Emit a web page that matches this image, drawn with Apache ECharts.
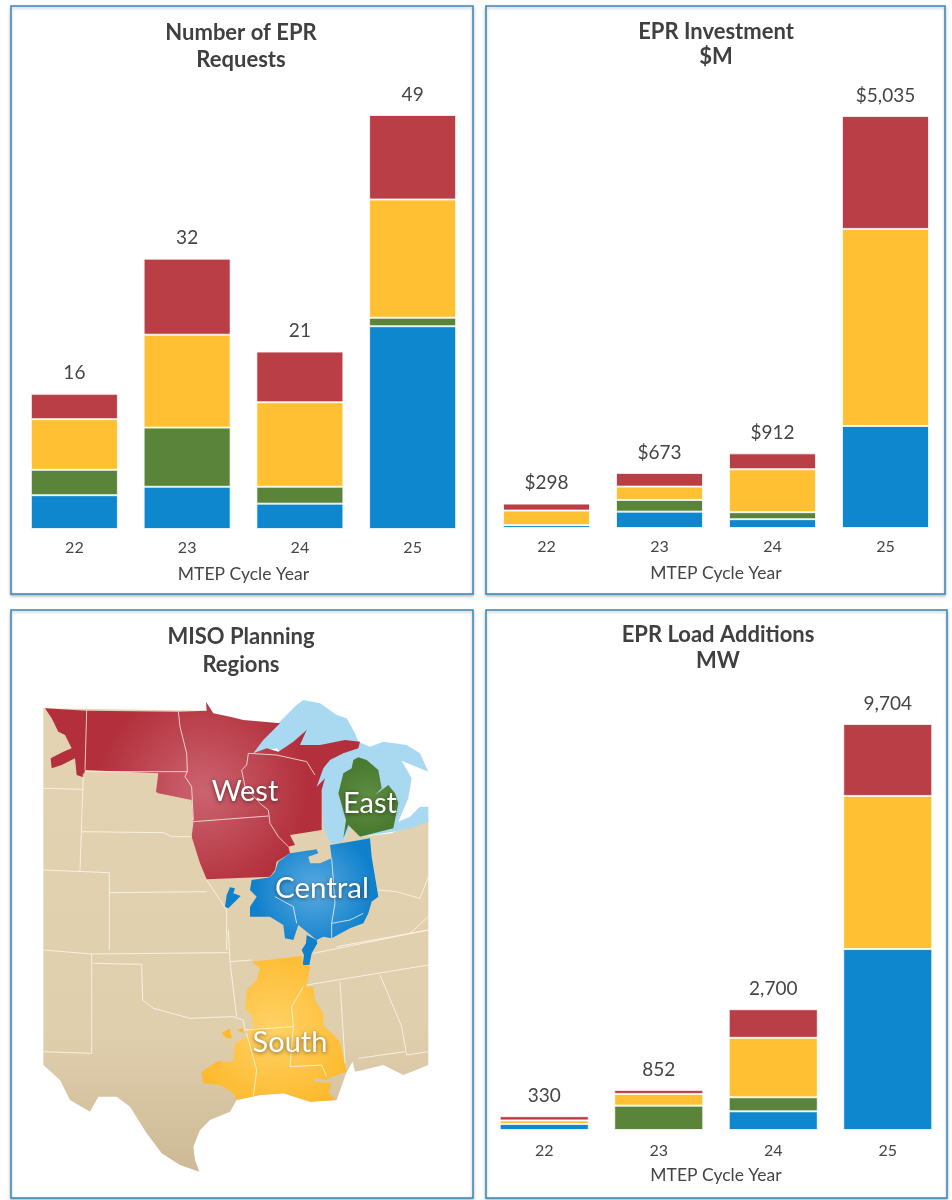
<!DOCTYPE html>
<html><head><meta charset="utf-8">
<style>html,body{margin:0;padding:0;background:#fff}#c{width:952px;height:1200px}</style>
<script src="https://cdn.jsdelivr.net/npm/echarts@6/dist/echarts.min.js"></script>
</head><body><div id="c"></div>
<script>
// ---- data ----
const years = ['22','23','24','25'];
const requestsCentral = [4,5,3,24];
const requestsEast    = [3,7,2,1];
const requestsSouth   = [6,11,10,14];
const requestsWest    = [3,9,6,10];
const requestsTotals  = ['16','32','21','49'];
const investCentral = [35,200,108,1247];
const investEast    = [null,143,85,null];
const investSouth   = [178,163,525,2408];
const investWest    = [85,167,194,1380];
const investTotals  = ['$298','$673','$912','$5,035'];
const loadCentral = [144,null,447,4325];
const loadEast    = [null,582,335,null];
const loadSouth   = [85,280,1421,3660];
const loadWest    = [101,96,684,1719];
const loadTotals  = ['330','852','2,700','9,704'];

// ---- style ----
const FONT='Lato';
const TEXT='#454545';
const COL={Central:'#0E87CF',East:'#5A8439',South:'#FFC133',West:'#B93E46'};

const charts=[
 {title:'Number of EPR\nRequests',cx:241,ty:19,lh:27,left:18,width:451,top:115,height:414,max:49,margin:11,
  d:[requestsCentral,requestsEast,requestsSouth,requestsWest],totals:requestsTotals,bw:87},
 {title:'EPR Investment\n$M',cx:716,ty:19,lh:25,left:490,width:452,top:116,height:412,max:5035,margin:11,
  d:[investCentral,investEast,investSouth,investWest],totals:investTotals,bw:87},
 {title:'EPR Load Additions\nMW',cx:718,ty:622,lh:26,left:487,width:458,top:724,height:406,max:9704,margin:13,
  d:[loadCentral,loadEast,loadSouth,loadWest],totals:loadTotals,bw:89}
];

const grid=[],xAxis=[],yAxis=[],series=[],title=[];
charts.forEach((c,i)=>{
  grid.push({left:c.left,width:c.width,top:c.top,height:c.height,containLabel:false});
  xAxis.push({type:'category',gridIndex:i,data:years,axisLine:{show:false},axisTick:{show:false},
    axisLabel:{color:TEXT,fontFamily:FONT,fontSize:16,margin:c.margin},
    name:'MTEP Cycle Year',nameLocation:'middle',nameGap:36,
    nameTextStyle:{color:TEXT,fontFamily:FONT,fontSize:17.5}});
  yAxis.push({type:'value',gridIndex:i,min:0,max:c.max,show:false,splitLine:{show:false}});
  title.push({text:c.title,left:c.cx,top:c.ty,padding:0,textAlign:'center',
    textStyle:{color:'#404040',fontFamily:FONT,fontWeight:'bold',fontSize:22,lineHeight:c.lh}});
  ['Central','East','South','West'].forEach((n,k)=>{
    const s={name:n,type:'bar',stack:'s'+i,xAxisIndex:i,yAxisIndex:i,data:c.d[k],barWidth:c.bw,
      itemStyle:{color:COL[n],borderColor:'rgba(255,255,255,0.75)',borderWidth:1}};
    if(n==='West'){
      s.label={show:true,position:'top',distance:11,color:TEXT,fontFamily:FONT,fontSize:19,
        formatter:p=>c.totals[p.dataIndex]};
    }
    series.push(s);
  });
});
title.push({text:'MISO Planning\nRegions',left:241,top:623,padding:0,textAlign:'center',
  textStyle:{color:'#404040',fontFamily:FONT,fontWeight:'bold',fontSize:22,lineHeight:28}});

// ---- decorative reference map (not data), traced in 3x crop space ----
const P=pts=>pts.map(p=>[30+p[0]/3,690+p[1]/3]);
const S=pts=>P(pts.map(p=>[p[0],p[1]+720])); // second crop offset
const M=pts=>P(pts.map(p=>[p[0]+870,p[1]+15])); // Michigan crop offset
const land=P([[40,55],[530,62],[875,300],[900,460],[945,445],[965,405],[990,440],[1085,430],[1150,400],[1195,390]]).concat(S([[1195,405],[1120,435],[1060,405],[1000,420],[975,425],[968,395],[950,425],[920,510],[840,515],[760,490],[690,495],[620,510],[600,545],[540,570],[510,600],[490,650],[495,690],[508,725],[450,705],[395,670],[350,610],[300,530],[260,500],[205,500],[180,545],[120,510],[90,450],[40,405]]));
const lakes=P([[670,190],[700,150],[745,100],[800,45],[820,30],[870,40],[920,75],[950,85],[975,130],[985,155],[1020,170],[1060,155],[1130,165],[1170,190],[1195,245],[1115,212],[1145,265],[1135,325],[1105,395],[1140,380],[1170,350],[1195,350],[1195,395],[1140,415],[1090,425],[990,440],[965,405],[945,445],[930,460],[900,460],[880,410],[875,300],[860,285],[740,175]]);
const west=P([[45,55],[170,62],[445,65],[530,62],[528,35],[550,70],[600,80],[640,90],[700,95],[750,100],[700,150],[670,190],[710,175],[745,185],[790,155],[830,120],[810,165],[870,165],[945,150],[990,155],[985,175],[940,190],[900,210],[880,235],[860,290],[885,265],[875,300],[875,420],[780,435],[795,465],[775,470],[780,490],[740,515],[735,540],[720,560],[530,568],[510,520],[485,440],[490,400],[485,330],[385,310],[378,305],[385,250],[165,240],[160,262],[140,255],[135,205],[95,225],[65,235],[62,205],[100,185],[125,175],[105,135],[85,125],[65,85]]);
const east=M([[115,187],[140,195],[175,225],[185,280],[165,300],[205,270],[225,295],[235,325],[220,400],[120,425],[85,390],[70,430],[78,375],[55,295],[70,235],[95,220],[100,195]]);
const central=P([[900,465],[960,455],[1020,445],[1025,500],[1045,620],[1025,635],[1015,670],[1000,700],[960,715],[905,745],[880,740],[860,750],[830,725],[805,705],[790,750],[765,745],[760,705],[720,680],[660,680],[660,650],[680,620],[660,600],[665,570],[720,562],[735,545],[745,515],[780,490],[860,478],[865,490],[835,500],[840,520],[870,520],[905,505]]);
const centralTail=P([[830,735],[860,750],[862,760],[845,790],[838,825],[818,825],[822,795],[815,780],[828,760]]);
const centralBlob=P([[600,592],[615,595],[610,610],[632,618],[595,655],[585,650],[590,615]]);
const south=S([[665,95],[815,78],[820,105],[840,108],[830,170],[850,170],[855,210],[880,250],[880,285],[905,310],[930,335],[950,425],[905,440],[890,450],[855,445],[850,455],[905,460],[895,490],[920,510],[840,515],[760,490],[690,495],[620,510],[612,490],[570,465],[520,460],[515,425],[560,395],[610,395],[615,340],[650,320],[655,300],[670,290],[665,255],[645,235],[650,180],[680,150],[690,115]]);
const southBlobs=[S([[575,310],[600,295],[605,325],[590,325]]),S([[550,405],[575,390],[565,405]]),S([[620,300],[640,295],[640,310]])];
const lines=[
 P([[170,62],[165,240]]),P([[445,65],[450,110],[470,190],[472,245],[465,260],[485,290],[490,390]]),
 P([[165,245],[472,245]]),P([[490,395],[715,378]]),
 P([[655,190],[650,225],[635,240],[645,290],[690,340],[715,360],[720,400],[745,440],[775,470]]),
 P([[655,190],[740,195],[830,215],[855,255]]),
 P([[40,295],[160,298]]),P([[160,250],[150,545]]),P([[155,425],[400,428],[425,440],[485,440]]),
 P([[40,540],[238,548],[238,780]]),P([[238,608],[530,605]]),P([[530,570],[590,660],[590,780]]),
 P([[1045,600],[1100,605],[1170,625],[1195,560]]),P([[1195,720],[920,770]]),P([[1195,680],[1140,730]]),
 P([[905,505],[915,640],[905,700],[905,745]]),P([[735,620],[790,650],[800,700]]),P([[905,700],[960,690],[1000,670]]),
 S([[40,60],[185,72],[595,68]]),S([[595,0],[600,95],[620,260]]),S([[185,72],[185,370]]),S([[40,365],[185,370]]),
 S([[190,100],[335,103],[338,210],[370,235],[480,265],[610,260],[640,270],[645,300]]),S([[600,95],[665,90]]),
 S([[850,70],[1195,0]]),S([[830,165],[1195,105]]),S([[930,155],[945,400]]),S([[1050,135],[1115,290],[1130,375],[1195,365]]),
 S([[985,385],[1125,365]]),S([[645,300],[790,290]]),S([[790,290],[785,230],[820,170]]),
 S([[650,310],[680,420],[670,500]]),S([[790,290],[780,410],[875,405],[890,440]])
];
const rad=(a,b)=>({type:'radial',x:.5,y:.5,r:.6,colorStops:[{offset:0,color:a},{offset:1,color:b}]});
const poly=(points,fill,z)=>({type:'polygon',z:z,shape:{points},style:{fill},silent:true});
const graphic=[];
[[11,6,462,588],[486,6,459,588],[11,610,462,588],[486,610,461,588]].forEach(r=>{
  graphic.push({type:'rect',z:-10,shape:{x:r[0],y:r[1],width:r[2],height:r[3]},
    style:{fill:'#fff',stroke:'#3F85B0',lineWidth:1.5,shadowColor:'rgba(60,100,130,.4)',shadowBlur:3,shadowOffsetY:1.5},silent:true});
});
graphic.push(poly(land,{type:'linear',x:0,y:0,x2:0,y2:1,colorStops:[{offset:0,color:'#E4D3B2'},{offset:.7,color:'#E0CFAD'},{offset:1,color:'#CDB996'}]},1));
graphic.push(poly(lakes,'#A9D9F1',2));
lines.forEach(pts=>graphic.push({type:'polyline',z:6,shape:{points:pts},style:{stroke:'rgba(255,250,240,.75)',lineWidth:1,fill:null},silent:true}));
graphic.push(poly(west,rad('#CB6470','#B22F3B'),3));
graphic.push(poly(east,rad('#5E8E42','#4A7A30'),3));
graphic.push(poly(central,rad('#5AAAE0','#0F80CB'),3));
graphic.push(poly(centralTail,'#0F80CB',3));
graphic.push(poly(centralBlob,'#0F80CB',3));
graphic.push(poly(south,rad('#FFD267','#FDB92B'),3));
southBlobs.forEach(b=>graphic.push(poly(b,'#FDB92B',3)));
[['West',245,792,29],['Central',322,888,29.5],['East',370,804,29],['South',290,1043,29]].forEach(t=>{
  graphic.push({type:'text',z:8,silent:true,x:t[1],y:t[2],style:{text:t[0],fill:'#fff',fontFamily:FONT,fontSize:t[3],
    align:'center',verticalAlign:'middle',textShadowColor:'rgba(0,0,0,.55)',textShadowBlur:4,textShadowOffsetY:1}});
});

const chart=echarts.init(document.getElementById('c'),null,{renderer:'canvas'});
chart.setOption({animation:false,backgroundColor:'#fff',title,grid,xAxis,yAxis,series,graphic});
</script></body></html>
